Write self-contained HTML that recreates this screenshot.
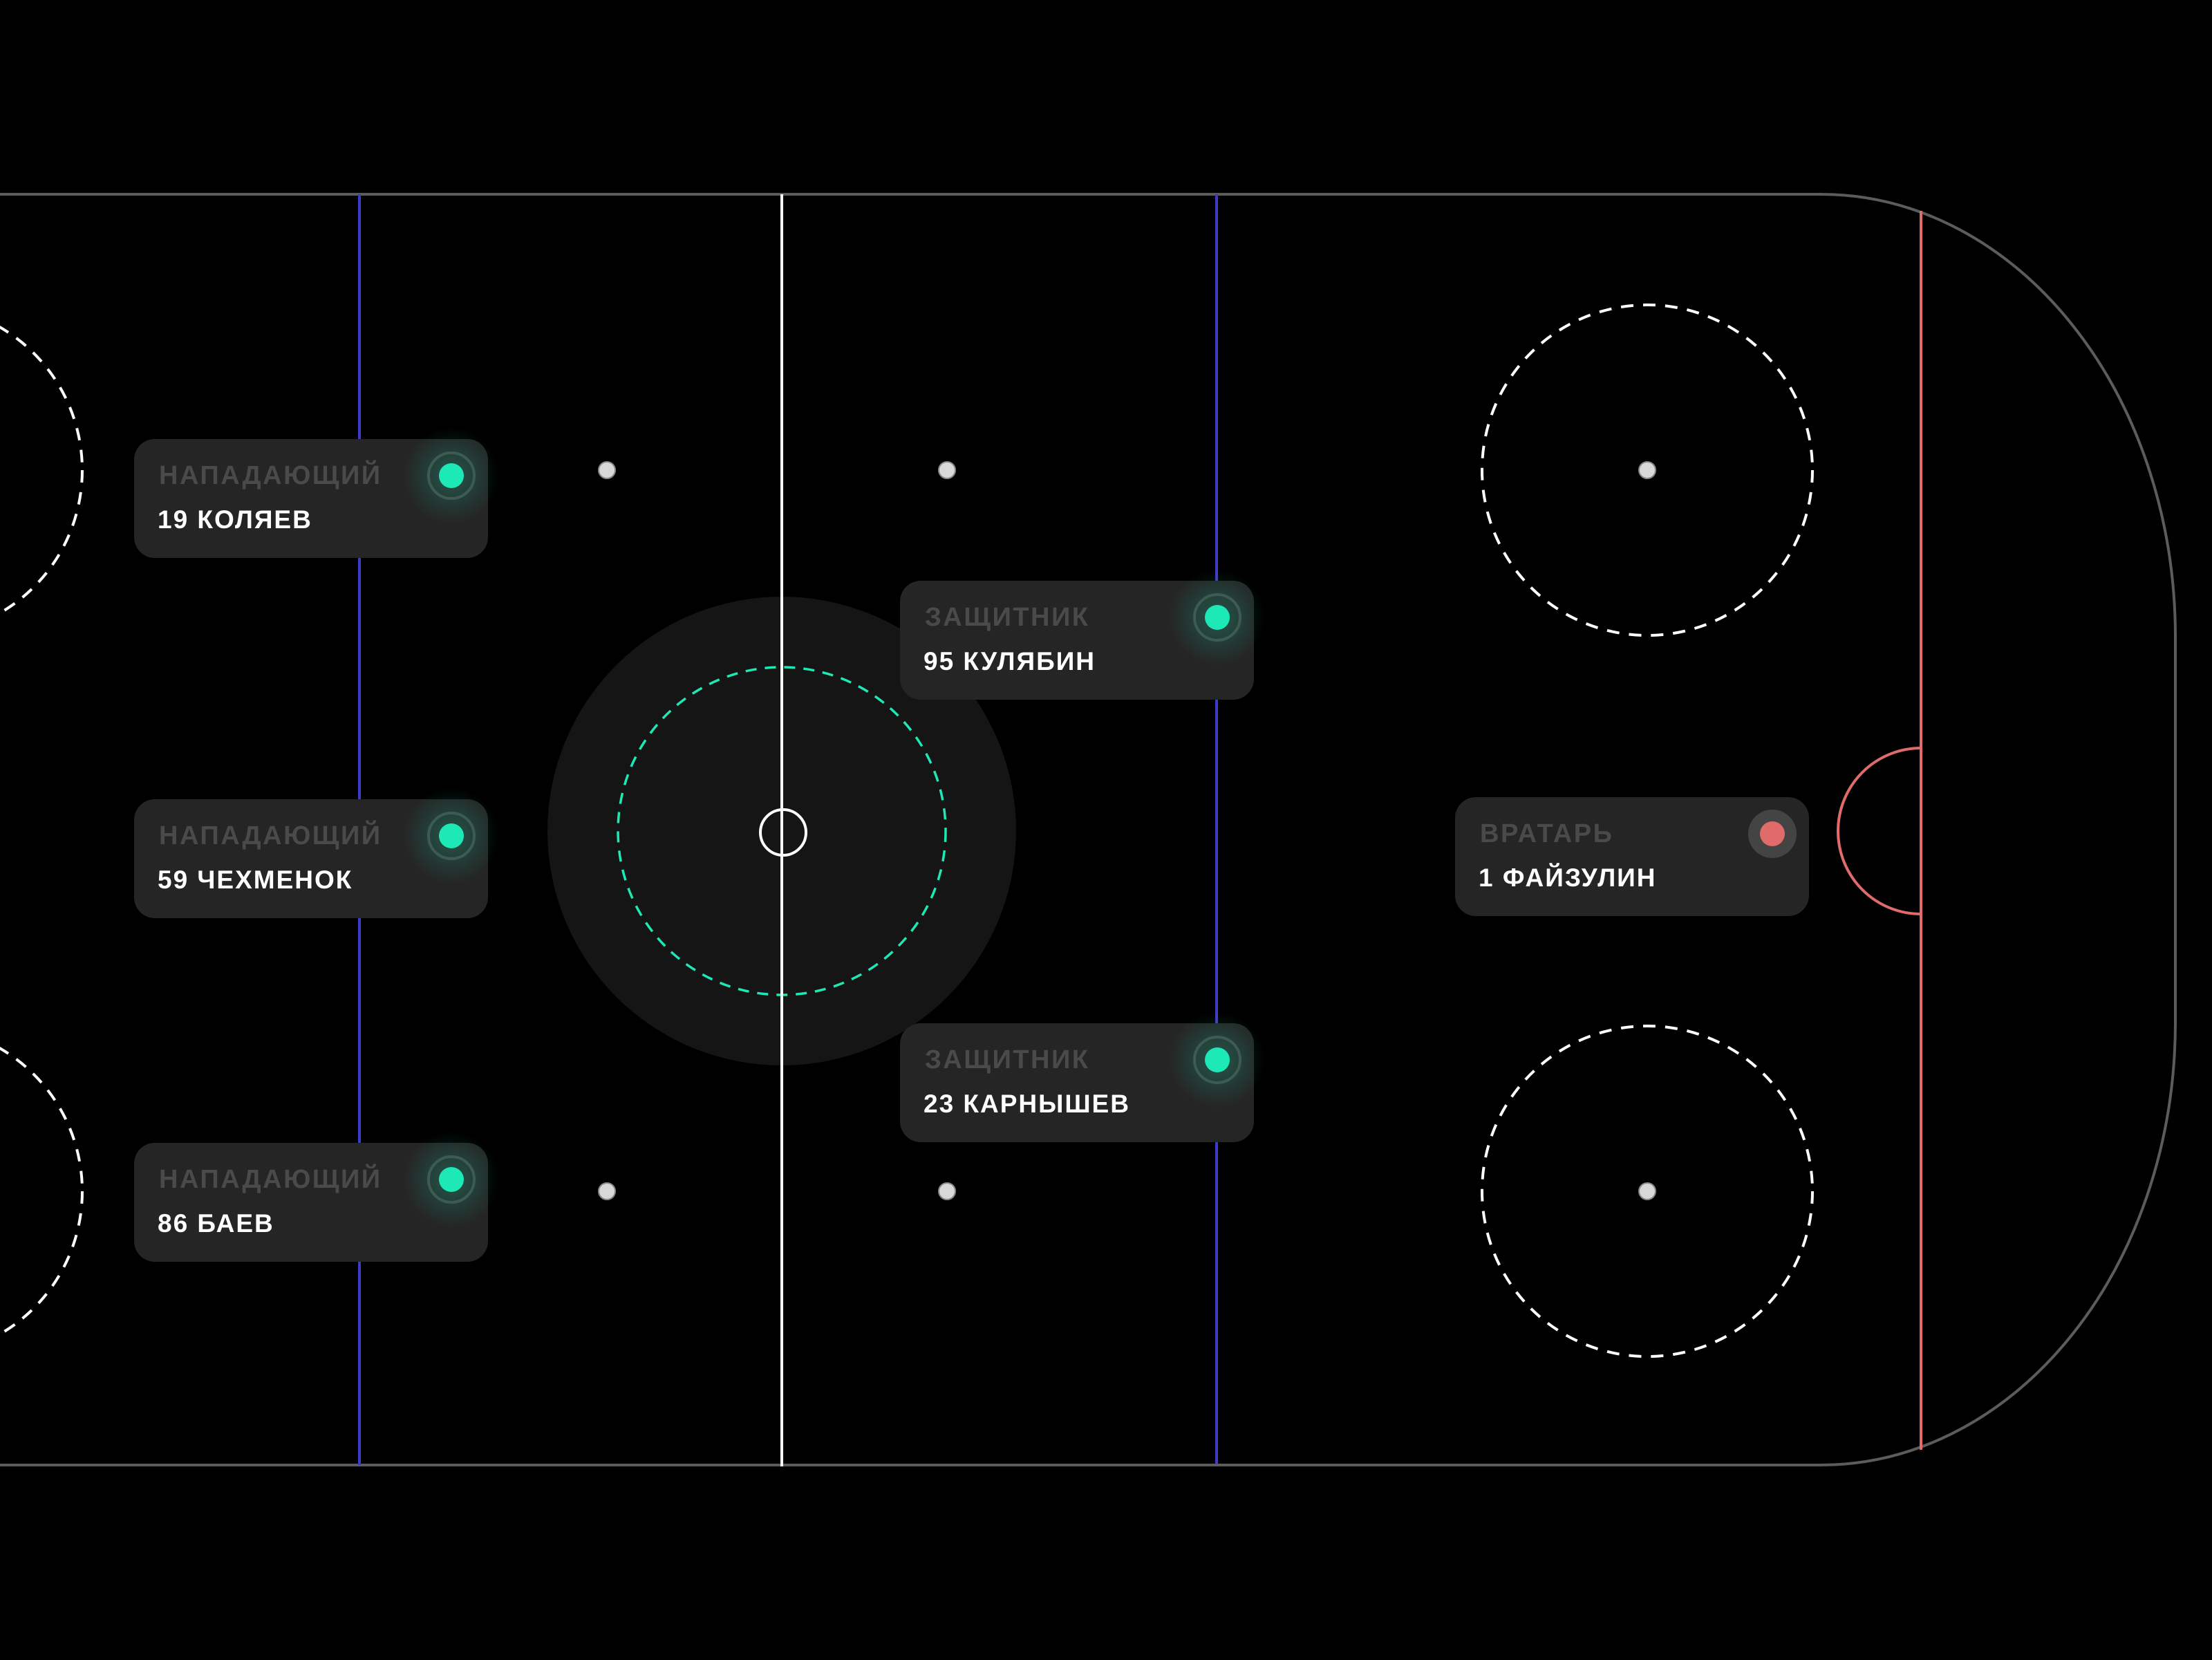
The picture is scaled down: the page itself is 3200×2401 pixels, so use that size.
<!DOCTYPE html>
<html><head><meta charset="utf-8"><style>
html,body{margin:0;padding:0;background:#000;}
body{width:3200px;height:2401px;overflow:hidden;position:relative;}
svg{position:absolute;left:0;top:0;}
.lbl{font-family:"Liberation Sans","DejaVu Sans",sans-serif;font-weight:bold;font-size:38px;letter-spacing:2.5px;fill:#4a4a4a;}
.nm{font-family:"Liberation Sans","DejaVu Sans",sans-serif;font-weight:bold;font-size:37px;letter-spacing:2px;fill:#fff;}
</style></head><body>
<svg width="3200" height="2401" viewBox="0 0 3200 2401">
<defs>
<radialGradient id="gg"><stop offset="0" stop-color="#1de9b6" stop-opacity="0.25"/><stop offset="1" stop-color="#1de9b6" stop-opacity="0"/></radialGradient>
</defs>
<path d="M0 281 H2634 A513 640 0 0 1 3147 921 V1479 A513 640 0 0 1 2634 2119 H0" fill="none" stroke="#5c5c5c" stroke-width="4"/>
<line x1="520" y1="281" x2="520" y2="2119" stroke="#3b3bc8" stroke-width="4"/>
<line x1="1760" y1="281" x2="1760" y2="2117" stroke="#3b3bc8" stroke-width="4"/>
<circle cx="1131" cy="1202" r="339" fill="#151515"/>
<circle cx="1131" cy="1202" r="237" fill="none" stroke="#1de9b6" stroke-width="3.5" stroke-dasharray="16 12"/>
<line x1="1131" y1="281" x2="1131" y2="2121" stroke="#fff" stroke-width="4"/>
<circle cx="1133" cy="1204" r="33" fill="none" stroke="#fff" stroke-width="4"/>
<line x1="2779" y1="305" x2="2779" y2="2097" stroke="#e06b6b" stroke-width="4"/>
<path d="M2779 1082 A120 120 0 0 0 2779 1322" fill="none" stroke="#e06b6b" stroke-width="4"/>
<g fill="none" stroke="#fff" stroke-width="4" stroke-dasharray="18 14">
<circle cx="2383" cy="680" r="239"/>
<circle cx="2383" cy="1723" r="239"/>
<circle cx="-120" cy="680" r="239"/>
<circle cx="-120" cy="1723" r="239"/>
</g>
<g fill="#d8d8d8" stroke="#888" stroke-width="2">
<circle cx="878" cy="680" r="12"/><circle cx="1370" cy="680" r="12"/>
<circle cx="878" cy="1723" r="12"/><circle cx="1370" cy="1723" r="12"/>
<circle cx="2383" cy="680" r="12"/><circle cx="2383" cy="1723" r="12"/>
</g>
<g transform="translate(194,635)">
<rect width="512" height="172" rx="30" fill="#252525"/>
<circle cx="459" cy="53" r="70" fill="url(#gg)"/>
<circle cx="459" cy="53" r="33" fill="none" stroke="#3c5c52" stroke-width="4"/>
<circle cx="459" cy="53" r="18" fill="#1de9b6"/>
<text x="36" y="65" class="lbl">НАПАДАЮЩИЙ</text>
<text x="34" y="129" class="nm">19 КОЛЯЕВ</text>
</g>
<g transform="translate(194,1156)">
<rect width="512" height="172" rx="30" fill="#252525"/>
<circle cx="459" cy="53" r="70" fill="url(#gg)"/>
<circle cx="459" cy="53" r="33" fill="none" stroke="#3c5c52" stroke-width="4"/>
<circle cx="459" cy="53" r="18" fill="#1de9b6"/>
<text x="36" y="65" class="lbl">НАПАДАЮЩИЙ</text>
<text x="34" y="129" class="nm">59 ЧЕХМЕНОК</text>
</g>
<g transform="translate(194,1653)">
<rect width="512" height="172" rx="30" fill="#252525"/>
<circle cx="459" cy="53" r="70" fill="url(#gg)"/>
<circle cx="459" cy="53" r="33" fill="none" stroke="#3c5c52" stroke-width="4"/>
<circle cx="459" cy="53" r="18" fill="#1de9b6"/>
<text x="36" y="65" class="lbl">НАПАДАЮЩИЙ</text>
<text x="34" y="129" class="nm">86 БАЕВ</text>
</g>
<g transform="translate(1302,840)">
<rect width="512" height="172" rx="30" fill="#252525"/>
<circle cx="459" cy="53" r="70" fill="url(#gg)"/>
<circle cx="459" cy="53" r="33" fill="none" stroke="#3c5c52" stroke-width="4"/>
<circle cx="459" cy="53" r="18" fill="#1de9b6"/>
<text x="36" y="65" class="lbl">ЗАЩИТНИК</text>
<text x="34" y="129" class="nm">95 КУЛЯБИН</text>
</g>
<g transform="translate(1302,1480)">
<rect width="512" height="172" rx="30" fill="#252525"/>
<circle cx="459" cy="53" r="70" fill="url(#gg)"/>
<circle cx="459" cy="53" r="33" fill="none" stroke="#3c5c52" stroke-width="4"/>
<circle cx="459" cy="53" r="18" fill="#1de9b6"/>
<text x="36" y="65" class="lbl">ЗАЩИТНИК</text>
<text x="34" y="129" class="nm">23 КАРНЫШЕВ</text>
</g>
<g transform="translate(2105,1153)">
<rect width="512" height="172" rx="30" fill="#252525"/>
<circle cx="459" cy="53" r="35" fill="#444"/>
<circle cx="459" cy="53" r="18" fill="#e06b6b"/>
<text x="36" y="65" class="lbl">ВРАТАРЬ</text>
<text x="34" y="129" class="nm">1 ФАЙЗУЛИН</text>
</g>
</svg>
</body></html>
